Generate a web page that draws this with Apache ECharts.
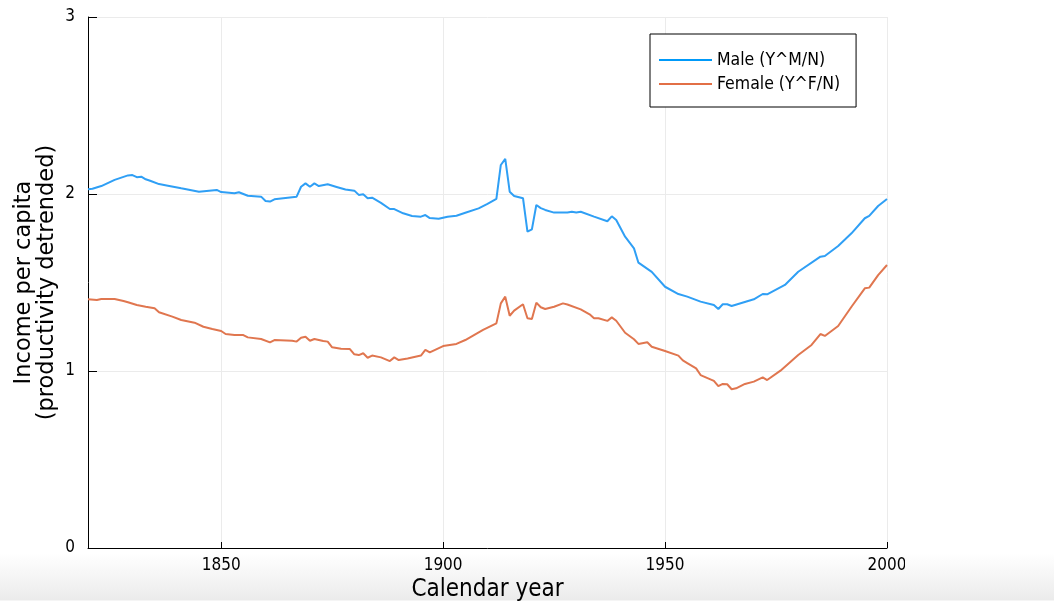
<!DOCTYPE html>
<html>
<head>
<meta charset="utf-8">
<title>Income per capita</title>
<script src="https://cdn.jsdelivr.net/npm/echarts@6/dist/echarts.min.js"></script>
<style>
  html, body {
    margin: 0;
    padding: 0;
    width: 1054px;
    height: 603px;
    overflow: hidden;
    background: linear-gradient(to bottom, #ffffff 0px, #ffffff 553px, #f6f6f6 575px, #ebebeb 600px, #ffffff 601px);
  }
  #chart {
    position: absolute;
    left: 0;
    top: 0;
    width: 905px;
    height: 603px;
  }
</style>
</head>
<body>
<div id="chart"></div>
<script>
// data
var maleYears = [1820, 1821, 1823, 1826, 1829, 1830, 1831, 1832, 1833, 1834, 1836, 1838, 1841, 1845, 1849, 1850,
    1853, 1854, 1856, 1859, 1860, 1861, 1862, 1865, 1867, 1868, 1869, 1870, 1871, 1872, 1874, 1876, 1878, 1880,
    1881, 1882, 1883, 1884, 1886, 1888, 1889, 1891, 1893, 1895, 1896, 1897, 1899, 1901, 1903, 1905, 1908, 1910,
    1912, 1913, 1914, 1915, 1916, 1918, 1919, 1920, 1921, 1922, 1923, 1925, 1928, 1929, 1930, 1931, 1934, 1937,
    1938, 1939, 1941, 1943, 1944, 1947, 1950, 1953, 1955, 1958, 1961, 1962, 1963, 1964, 1965, 1970, 1972, 1973,
    1977, 1980, 1985, 1986, 1989, 1992, 1995, 1996, 1998, 2000];
var maleValues = [2.027, 2.03, 2.045, 2.08, 2.105, 2.107, 2.095, 2.098, 2.083, 2.075, 2.056, 2.047, 2.032, 2.013,
    2.023, 2.011, 2.004, 2.01, 1.99, 1.985, 1.96, 1.957, 1.97, 1.979, 1.985, 2.041, 2.06, 2.041, 2.06, 2.045, 2.055,
    2.04, 2.025, 2.019, 1.995, 1.998, 1.976, 1.979, 1.95, 1.915, 1.915, 1.891, 1.876, 1.872, 1.881, 1.864, 1.86,
    1.872, 1.877, 1.894, 1.919, 1.944, 1.972, 2.164, 2.198, 2.013, 1.989, 1.976, 1.787, 1.80, 1.938, 1.92, 1.91,
    1.895, 1.895, 1.9, 1.895, 1.9, 1.872, 1.846, 1.874, 1.853, 1.759, 1.693, 1.612, 1.56, 1.476, 1.435, 1.42,
    1.392, 1.373, 1.35, 1.377, 1.377, 1.367, 1.405, 1.435, 1.433, 1.486, 1.561, 1.646, 1.65, 1.706, 1.778, 1.863,
    1.876, 1.932, 1.972];

var femaleYears = [1820, 1822, 1823, 1826, 1828, 1829, 1831, 1833, 1835, 1836, 1839, 1841, 1844, 1846, 1848, 1850,
    1851, 1853, 1855, 1856, 1859, 1861, 1862, 1866, 1867, 1868, 1869, 1870, 1871, 1873, 1874, 1875, 1877, 1879,
    1880, 1881, 1882, 1883, 1884, 1886, 1888, 1889, 1890, 1892, 1895, 1896, 1897, 1900, 1903, 1905, 1909, 1912,
    1913, 1914, 1915, 1916, 1918, 1919, 1920, 1921, 1922, 1923, 1925, 1927, 1928, 1931, 1933, 1934, 1935, 1937,
    1938, 1939, 1941, 1943, 1944, 1946, 1947, 1950, 1953, 1954, 1955, 1957, 1958, 1961, 1962, 1963, 1964, 1965,
    1966, 1968, 1970, 1972, 1973, 1976, 1980, 1983, 1985, 1986, 1989, 1992, 1995, 1996, 1998, 2000];
var femaleValues = [1.405, 1.401, 1.407, 1.407, 1.395, 1.388, 1.373, 1.363, 1.354, 1.332, 1.307, 1.288, 1.273,
    1.25, 1.237, 1.226, 1.209, 1.203, 1.203, 1.19, 1.181, 1.162, 1.175, 1.171, 1.166, 1.188, 1.194, 1.171, 1.181,
    1.169, 1.166, 1.134, 1.126, 1.124, 1.094, 1.09, 1.1, 1.075, 1.087, 1.077, 1.056, 1.077, 1.062, 1.071, 1.087,
    1.119, 1.105, 1.141, 1.153, 1.175, 1.232, 1.269, 1.382, 1.42, 1.312, 1.341, 1.377, 1.298, 1.294, 1.386, 1.36,
    1.35, 1.363, 1.382, 1.376, 1.348, 1.32, 1.298, 1.298, 1.283, 1.303, 1.284, 1.216, 1.179, 1.153, 1.162, 1.137,
    1.113, 1.087, 1.06, 1.045, 1.015, 0.977, 0.944, 0.915, 0.927, 0.925, 0.897, 0.902, 0.927, 0.94, 0.964, 0.949,
    1.002, 1.09, 1.147, 1.209, 1.198, 1.254, 1.363, 1.467, 1.471, 1.542, 1.599];

var xTicks = [1850, 1900, 1950, 2000];
var seriesNames = ['Male (Y^M/N)', 'Female (Y^F/N)'];

var narrowFont = '"DejaVu Sans Condensed", "DejaVu Sans", sans-serif';
var wideFont = '"DejaVu Sans", sans-serif';

function pairs(xs, ys) {
    return xs.map(function (x, i) { return [x, ys[i]]; });
}

var mychart = echarts.init(document.getElementById('chart'), null, { renderer: 'canvas' });

mychart.setOption({
    animation: false,
    backgroundColor: 'transparent',
    textStyle: { fontFamily: narrowFont },
    grid: {
        left: 88,
        right: 18,
        top: 17,
        bottom: 55,
        containLabel: false,
        outerBoundsMode: 'none'
    },
    legend: {
        orient: 'vertical',
        left: 650,
        top: 34,
        padding: [17, 16, 14, 9],
        itemWidth: 53,
        itemHeight: 14,
        itemGap: 6,
        borderColor: '#000',
        borderWidth: 1,
        backgroundColor: '#fff',
        icon: 'path://M0,6 L53,6 L53,8 L0,8 Z',
        textStyle: { color: '#000', fontSize: 17.5, lineHeight: 16, fontFamily: narrowFont },
        data: seriesNames
    },
    xAxis: {
        type: 'value',
        min: 1820,
        max: 2000,
        name: 'Calendar year',
        nameLocation: 'middle',
        nameGap: 30,
        nameMoveOverlap: false,
        nameTextStyle: { color: '#000', fontSize: 24, fontFamily: narrowFont },
        axisLine: { show: true, onZero: false, lineStyle: { color: '#000', width: 1 } },
        axisTick: { show: true, inside: true, length: 6, lineStyle: { color: '#000' }, customValues: xTicks },
        axisLabel: {
            color: '#000', fontSize: 17, margin: 9, customValues: xTicks,
            formatter: function (v) { return String(v); }
        },
        splitLine: { show: true, lineStyle: { color: '#ebebeb', width: 1 } }
    },
    yAxis: {
        type: 'value',
        min: 0,
        max: 3,
        interval: 1,
        name: 'Income per capita\n(productivity detrended)',
        nameLocation: 'middle',
        nameGap: 29,
        nameMoveOverlap: false,
        nameTextStyle: { color: '#000', fontSize: 22.5, lineHeight: 23, fontFamily: wideFont },
        axisLine: { show: true, lineStyle: { color: '#000', width: 1 } },
        axisTick: { show: true, inside: true, length: 9, lineStyle: { color: '#000' } },
        axisLabel: { color: '#000', fontSize: 17, margin: 13 },
        splitLine: { show: true, lineStyle: { color: '#ebebeb', width: 1 } }
    },
    series: [
        {
            name: seriesNames[0],
            type: 'line',
            data: pairs(maleYears, maleValues),
            symbol: 'none',
            color: '#009af9',
            lineStyle: { width: 2, color: '#2f9ff5' }
        },
        {
            name: seriesNames[1],
            type: 'line',
            data: pairs(femaleYears, femaleValues),
            symbol: 'none',
            color: '#e26f46',
            lineStyle: { width: 2, color: '#e0764f' }
        }
    ]
});
</script>
</body>
</html>
